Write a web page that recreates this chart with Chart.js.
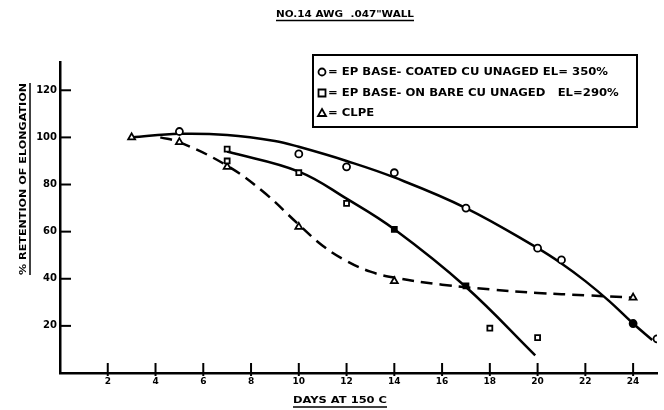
<!DOCTYPE html>
<html>
<head>
<meta charset="utf-8">
<script src="https://cdn.jsdelivr.net/npm/chart.js@4.4.0/dist/chart.umd.min.js"></script>
<style>
  html, body { margin: 0; padding: 0; background: #fff; }
  #wrap { width: 664px; height: 410px; }
</style>
</head>
<body>
<div id="wrap"><canvas id="myChart" width="664" height="410"></canvas></div>
<script>
// NO.14 AWG .047" wall - retention of elongation after aging at 150 C
var chartTitle = 'NO.14 AWG  .047"WALL';
var xTitle = "DAYS AT 150 C";
var yTitle = "% RETENTION OF ELONGATION";

var xTicks = [2, 4, 6, 8, 10, 12, 14, 16, 18, 20, 22, 24];
var yTicks = [20, 40, 60, 80, 100, 120];

var seriesNames = [
  "= EP BASE- COATED CU UNAGED EL= 350%",
  "= EP BASE- ON BARE CU UNAGED   EL=290%",
  "= CLPE"
];

// measured points
var coatedX = [5, 10, 12, 14, 17, 20, 21, 24, 25];
var coatedY = [102.5, 93, 87.5, 85, 70, 53, 48, 21, 14.5];
var bareX = [7, 7, 10, 12, 14, 17, 18, 20];
var bareY = [95, 90, 85, 72, 61, 37, 19, 15];
var clpeX = [3, 5, 7, 10, 14, 24];
var clpeY = [100, 98, 87.5, 62, 39, 32];

// hand drawn curves through the points
var coatedCurveX = [3, 5, 7, 9, 10, 12, 14, 17, 20, 21, 22, 23, 24, 24.8];
var coatedCurveY = [100, 101.5, 101, 98.5, 96, 90, 83, 70, 53, 46.5, 39, 30.5, 21, 14];
var bareCurveX = [7, 10, 12, 14, 17, 19.9];
var bareCurveY = [94, 85.5, 74, 61, 36.5, 7.5];
var clpeCurveX = [4.2, 5, 7, 8.5, 10, 11, 12, 13, 14, 16, 18, 20, 22, 24];
var clpeCurveY = [100, 98, 88, 77, 63, 54, 47.5, 43, 40.5, 37.5, 35.5, 34, 33, 32];

function pts(xs, ys) {
  var out = [];
  for (var i = 0; i < xs.length; i++) {
    out.push({ x: xs[i], y: ys[i] });
  }
  return out;
}

function fills(n, filledIdx) {
  var c = [];
  for (var i = 0; i < n; i++) c.push(filledIdx.indexOf(i) >= 0 ? "#000" : "#fff");
  return c;
}

// draw text squeezed/stretched to a given width
function fitText(ctx, text, x, y, width) {
  var w = ctx.measureText(text).width;
  ctx.save();
  ctx.translate(x, y);
  ctx.scale(width / w, 1);
  ctx.fillText(text, 0, 0);
  ctx.restore();
}

function marker(ctx, style, x, y) {
  ctx.save();
  ctx.lineWidth = 1.8;
  ctx.strokeStyle = "#000";
  ctx.fillStyle = "#fff";
  ctx.beginPath();
  if (style == "circle") {
    ctx.arc(x, y, 3.5, 0, Math.PI * 2);
  } else if (style == "rect") {
    ctx.rect(x - 3.5, y - 3.5, 7, 7);
  } else {
    ctx.moveTo(x, y - 4);
    ctx.lineTo(x + 4, y + 3);
    ctx.lineTo(x - 4, y + 3);
    ctx.closePath();
  }
  ctx.fill();
  ctx.stroke();
  ctx.restore();
}

var extras = {
  id: "extras",
  afterDraw: function(chart) {
    var ctx = chart.ctx;
    var xs = chart.scales.x, ys = chart.scales.y;
    var area = chart.chartArea;
    ctx.save();
    ctx.strokeStyle = "#000";
    ctx.fillStyle = "#000";

    // inward tick marks
    ctx.lineWidth = 2;
    xTicks.forEach(function(v) {
      var px = xs.getPixelForValue(v);
      ctx.beginPath();
      ctx.moveTo(px, area.bottom - 10);
      ctx.lineTo(px, area.bottom + 3);
      ctx.stroke();
    });
    yTicks.forEach(function(v) {
      var py = ys.getPixelForValue(v);
      ctx.beginPath();
      ctx.moveTo(area.left, py);
      ctx.lineTo(area.left + 11, py);
      ctx.stroke();
    });

    // titles, underlined
    ctx.font = "bold 9px 'DejaVu Sans'";
    ctx.textBaseline = "middle";
    fitText(ctx, chartTitle, 276, 15, 138);
    ctx.lineWidth = 1.5;
    ctx.beginPath(); ctx.moveTo(276, 20.5); ctx.lineTo(414, 20.5); ctx.stroke();

    fitText(ctx, xTitle, 293, 401, 94);
    ctx.beginPath(); ctx.moveTo(293, 407); ctx.lineTo(387, 407); ctx.stroke();

    ctx.save();
    ctx.translate(24, 275);
    ctx.rotate(-Math.PI / 2);
    fitText(ctx, yTitle, 0, 0, 192);
    ctx.beginPath(); ctx.moveTo(0, 6); ctx.lineTo(192, 6); ctx.stroke();
    ctx.restore();

    // legend box
    ctx.lineWidth = 2;
    ctx.strokeRect(313, 55, 324, 72);
    var styles = ["circle", "rect", "triangle"];
    var rowsY = [72, 93, 113];
    ctx.font = "bold 10px 'DejaVu Sans'";
    var k = 280 / ctx.measureText(seriesNames[0]).width;
    for (var i = 0; i < seriesNames.length; i++) {
      marker(ctx, styles[i], 322, rowsY[i]);
      fitText(ctx, seriesNames[i], 328, rowsY[i], ctx.measureText(seriesNames[i]).width * k);
    }
    ctx.restore();
  }
};

var ctx = document.getElementById("myChart");

var chart = new Chart(ctx, {
  type: "scatter",
  data: {
    datasets: [
      {
        label: seriesNames[0],
        data: pts(coatedX, coatedY),
        pointStyle: "circle",
        pointRadius: 3.5,
        pointBorderWidth: 1.8,
        borderColor: "#000",
        pointBackgroundColor: fills(coatedX.length, [7])
      },
      {
        label: seriesNames[1],
        data: pts(bareX, bareY),
        pointStyle: "rect",
        pointRadius: 3.5,
        pointBorderWidth: 1.8,
        borderColor: "#000",
        pointBackgroundColor: fills(bareX.length, [4, 5])
      },
      {
        label: seriesNames[2],
        data: pts(clpeX, clpeY),
        pointStyle: "triangle",
        pointRadius: 4,
        pointBorderWidth: 1.8,
        borderColor: "#000",
        pointBackgroundColor: "#fff"
      },
      {
        data: pts(coatedCurveX, coatedCurveY),
        showLine: true,
        pointRadius: 0,
        borderColor: "#000",
        borderWidth: 2.5,
        tension: 0.4
      },
      {
        data: pts(bareCurveX, bareCurveY),
        showLine: true,
        pointRadius: 0,
        borderColor: "#000",
        borderWidth: 2.5,
        tension: 0.4
      },
      {
        data: pts(clpeCurveX, clpeCurveY),
        showLine: true,
        pointRadius: 0,
        borderColor: "#000",
        borderWidth: 2.5,
        borderDash: [12, 7],
        tension: 0.4
      }
    ]
  },
  options: {
    responsive: false,
    animation: false,
    layout: { padding: { left: 0, top: 62, right: 7, bottom: 0 } },
    plugins: {
      legend: { display: false },
      tooltip: { enabled: false }
    },
    scales: {
      x: {
        type: "linear",
        min: 0,
        max: 25,
        grid: { display: false, drawTicks: false },
        border: { display: true, color: "#000", width: 2.5 },
        afterBuildTicks: function(scale) {
          scale.ticks = xTicks.map(function(v) { return { value: v }; });
        },
        afterFit: function(scale) { scale.height = 37; },
        ticks: {
          color: "#000",
          padding: 3,
          maxRotation: 0,
          font: { family: "DejaVu Sans", size: 9, weight: "bold" }
        }
      },
      y: {
        min: 0,
        max: 132,
        grid: { display: false, drawTicks: false },
        border: { display: true, color: "#000", width: 2.5 },
        afterBuildTicks: function(scale) {
          scale.ticks = yTicks.map(function(v) { return { value: v }; });
        },
        afterFit: function(scale) { scale.width = 60; },
        ticks: {
          color: "#000",
          padding: 3,
          font: { family: "DejaVu Sans", size: 10, weight: "bold" }
        }
      }
    }
  },
  plugins: [extras]
});
</script>
</body>
</html>
